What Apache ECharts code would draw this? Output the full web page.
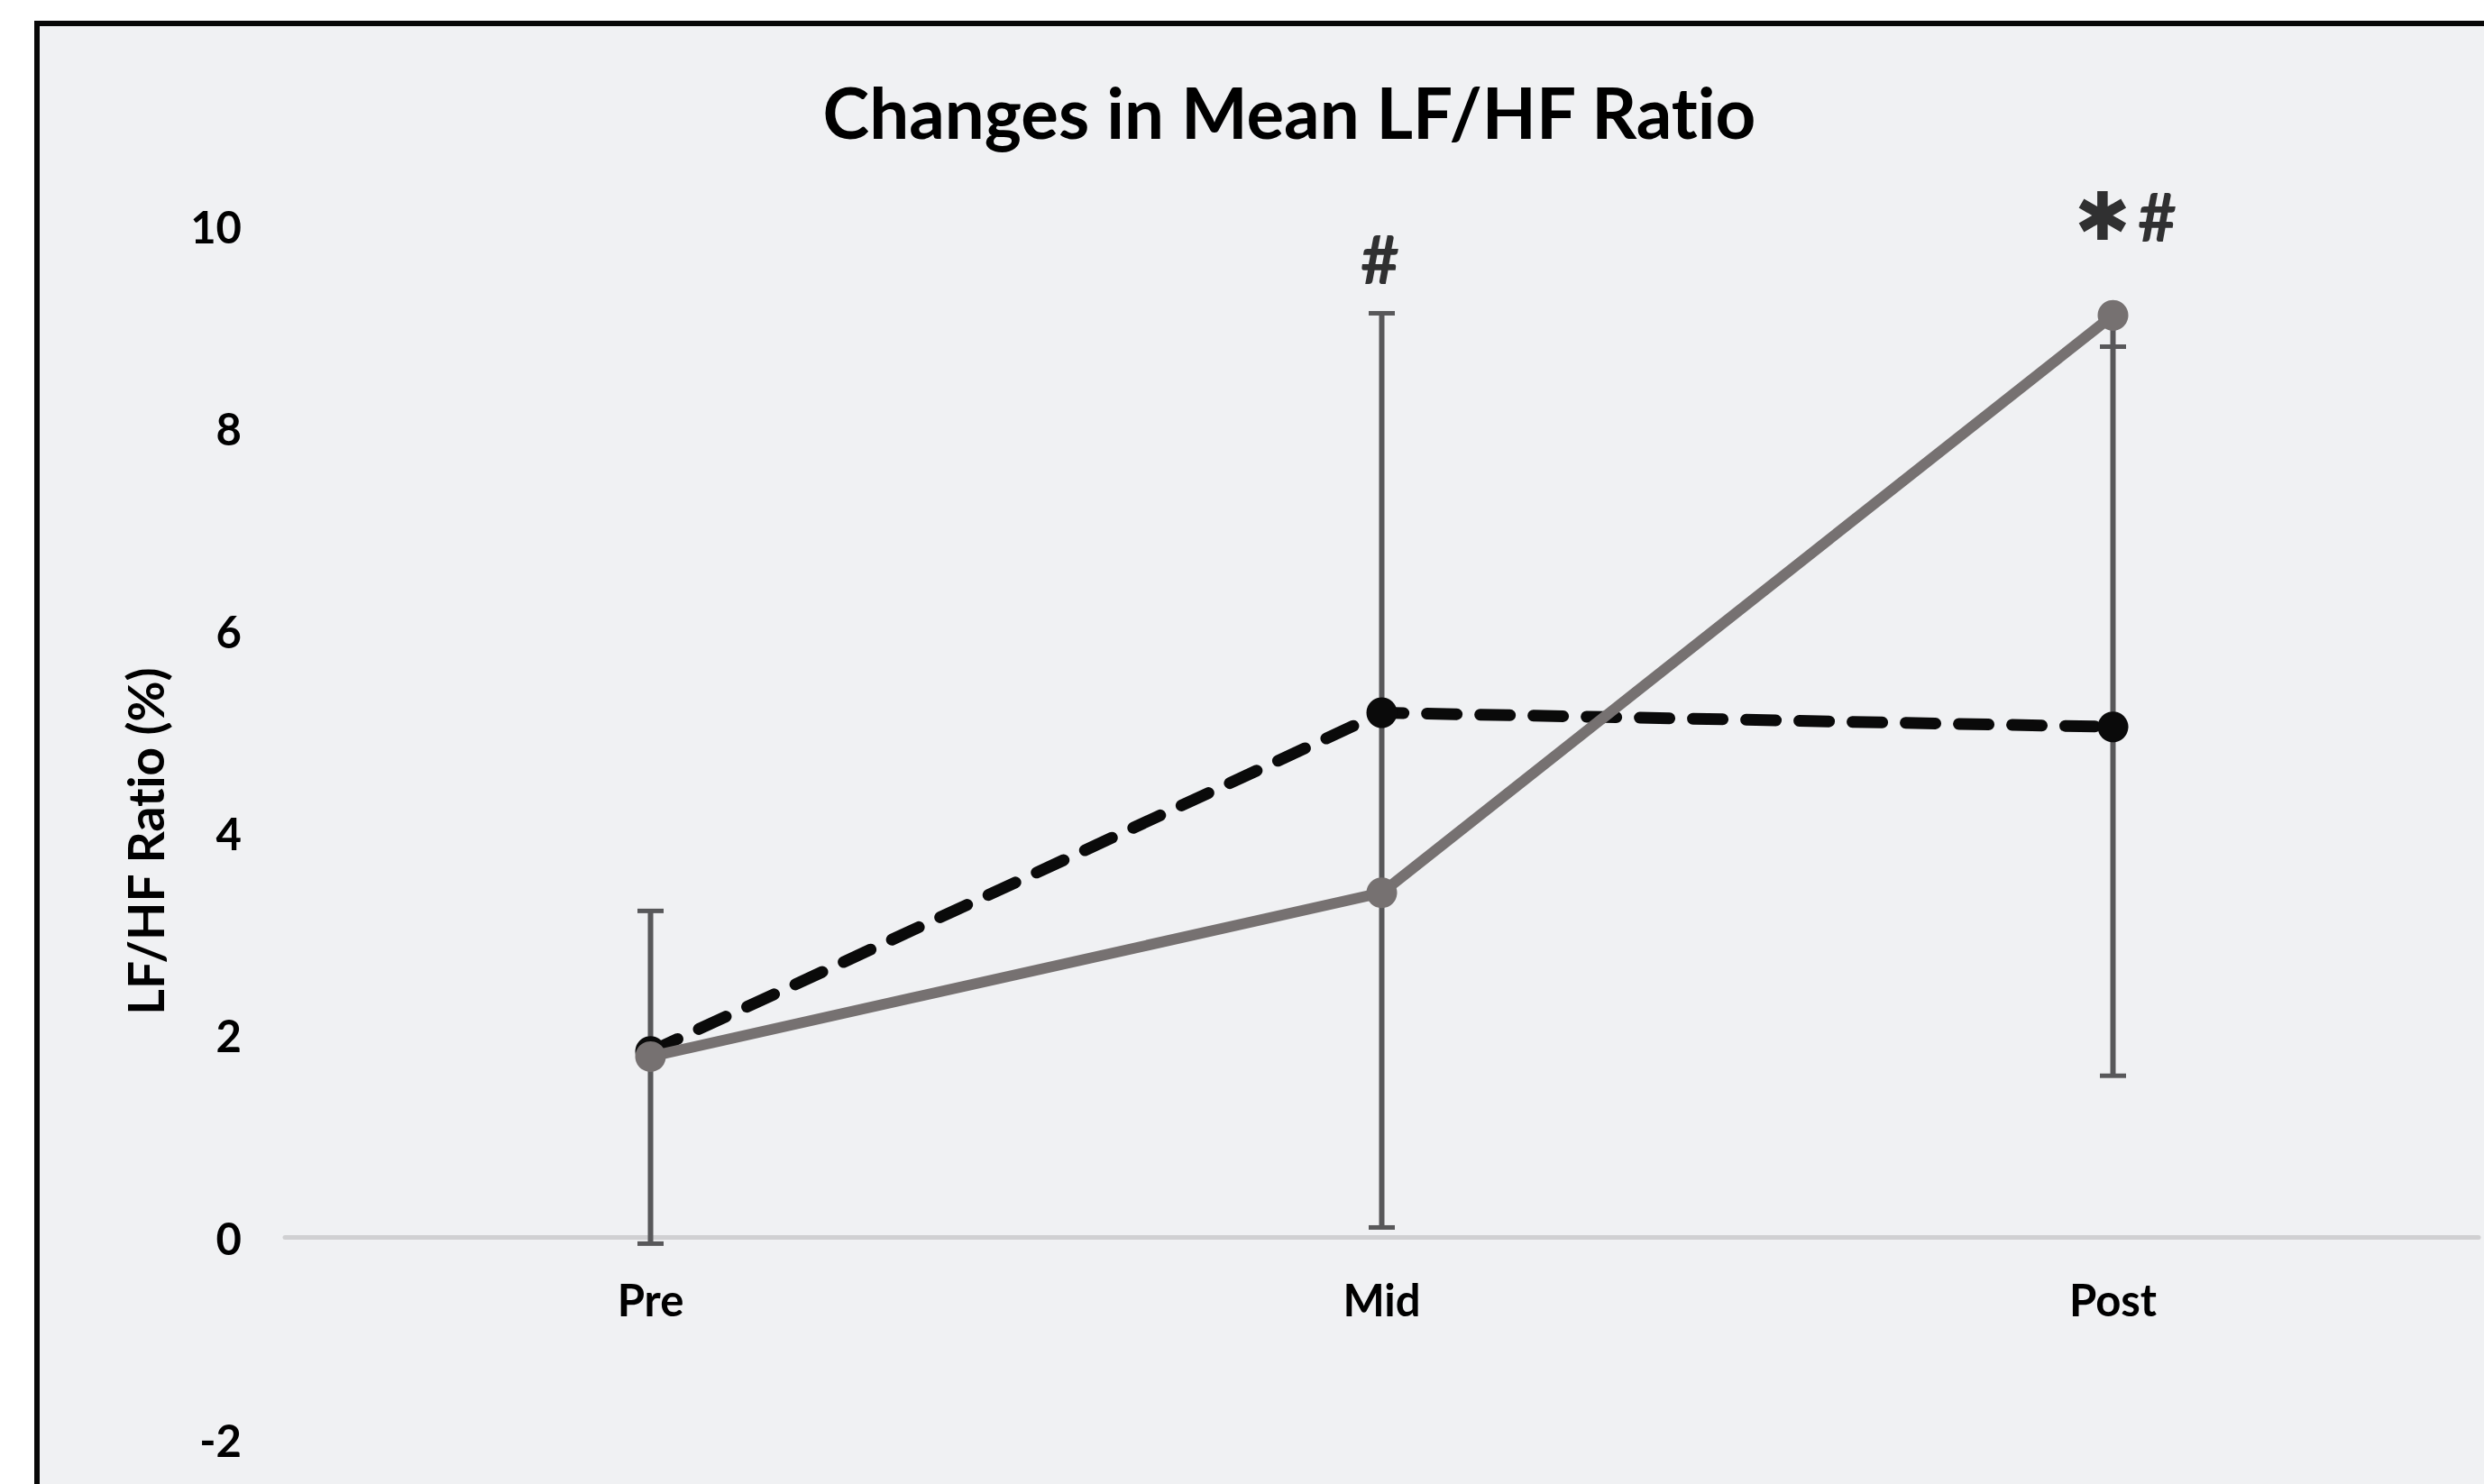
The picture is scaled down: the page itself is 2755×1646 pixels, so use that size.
<!DOCTYPE html>
<html>
<head>
<meta charset="utf-8">
<script src="https://cdn.jsdelivr.net/npm/echarts@6/dist/echarts.min.js"></script>
<style>
  html, body { margin: 0; padding: 0; background: #ffffff; }
  #frame { position: absolute; left: 38px; top: 23px; width: 2717px; height: 1623px;
           box-sizing: border-box; border-left: 6px solid #080808; border-top: 6px solid #080808;
           background: #f0f1f3; }
  #chart { position: absolute; left: 0; top: 0; width: 2755px; height: 1646px; }
  #chart text { font-variant-ligatures: none; text-rendering: optimizeSpeed; }
</style>
</head>
<body>
<div id="frame"></div>
<div id="chart"></div>
<script>
// ---- data ----
const categories = ['Pre', 'Mid', 'Post'];
const blackMean = [1.84, 5.19, 5.05];     // dashed black series
const greyMean  = [1.79, 3.41, 9.12];     // solid grey series
const errHigh   = [3.23, 9.14, 8.81];     // upper error-bar caps
const errLow    = [-0.06, 0.10, 1.60];    // lower error-bar caps
const annoText  = ['', '#', '*#'];        // significance marks
const annoY     = [null, 9.68, 10.1];     // value position of the marks
const yTicks    = { min: -2, max: 10, step: 2 };
const titleText = 'Changes in Mean LF/HF Ratio';
const yName     = 'LF/HF Ratio (%)';

const FONT = 'Lato';
const GRID = { left: 316, right: 6, top: 251, bottom: 49 };
const chart = echarts.init(document.getElementById('chart'), null, { renderer: 'svg' });

// x axis sits at value 0: shift it up from the bottom of the plot by the 0..min span
const plotH = 1646 - GRID.top - GRID.bottom;
const zeroShift = plotH * (0 - yTicks.min) / (yTicks.max - yTicks.min);

const errData = categories.map((c, i) => [
  i, errLow[i], errHigh[i],
  Math.min(errLow[i], blackMean[i], greyMean[i]),
  Math.max(errHigh[i], blackMean[i], greyMean[i])
]);

const annoData = categories.map((c, i) => annoY[i] == null ? null : {
    value: [i, annoY[i]], mark: annoText[i],
    label: { offset: [annoText[i].length > 1 ? 14 : -2, 0] }
  }).filter(d => d);

function richMark(s) {
  return s.split('').map(ch => ch === '*' ? '{s|\u2731}' : '{h|' + ch + '}').join('');
}

const option = {
  backgroundColor: 'transparent',
  animation: false,
  title: {
    text: titleText,
    left: 1430, top: 85, textAlign: 'center', padding: 0,
    textStyle: { fontFamily: FONT, fontWeight: 'bold', fontSize: 78, color: '#000' }
  },
  grid: Object.assign({ containLabel: false, outerBoundsMode: 'none' }, GRID),
  xAxis: {
    type: 'category', data: categories, boundaryGap: true,
    offset: -zeroShift,
    axisLine: { show: true, onZero: false, lineStyle: { color: '#d0d0d2', width: 5 } },
    axisTick: { show: false },
    splitLine: { show: false },
    axisLabel: { margin: 44, fontFamily: FONT, fontWeight: 'bold', fontSize: 49, color: '#000' }
  },
  yAxis: {
    type: 'value', min: yTicks.min, max: yTicks.max, interval: yTicks.step,
    axisLine: { show: false }, axisTick: { show: false }, splitLine: { show: false },
    axisLabel: { margin: 48, fontFamily: FONT, fontWeight: 'bold', fontSize: 49, color: '#000' },
    name: yName, nameLocation: 'middle', nameRotate: 90, nameGap: 128,
    nameTextStyle: { fontFamily: FONT, fontWeight: 'bold', fontSize: 55, color: '#000', padding: [0, 18, 0, 0] }
  },
  series: [
    {
      type: 'custom', z: 1, data: errData, clip: false,
      renderItem: function (params, api) {
        const x = api.value(0);
        const pLo = api.coord([x, api.value(1)]);
        const pHi = api.coord([x, api.value(2)]);
        const pA = api.coord([x, api.value(3)]);
        const pB = api.coord([x, api.value(4)]);
        const cap = 14.5;
        const st = { stroke: '#58585a', lineWidth: 6 };
        const cs = { stroke: '#58585a', lineWidth: 5 };
        return { type: 'group', children: [
          { type: 'line', shape: { x1: pA[0], y1: pA[1], x2: pB[0], y2: pB[1] }, style: st },
          { type: 'line', shape: { x1: pLo[0] - cap, y1: pLo[1], x2: pLo[0] + cap, y2: pLo[1] }, style: cs },
          { type: 'line', shape: { x1: pHi[0] - cap, y1: pHi[1], x2: pHi[0] + cap, y2: pHi[1] }, style: cs }
        ]};
      }
    },
    {
      type: 'line', z: 2, data: blackMean, clip: false,
      symbol: 'circle', symbolSize: 34, showSymbol: true,
      itemStyle: { color: '#0a0a0a' },
      lineStyle: { color: '#0a0a0a', width: 13, type: [33, 26], cap: 'round' }
    },
    {
      type: 'line', z: 3, data: greyMean, clip: false,
      symbol: 'circle', symbolSize: 34, showSymbol: true,
      itemStyle: { color: '#767171' },
      lineStyle: { color: '#767171', width: 12 }
    },
    {
      type: 'scatter', z: 4, data: annoData, symbolSize: 0, silent: true, clip: false,
      label: {
        show: true, position: 'inside',
        formatter: p => richMark(p.data.mark),
        rich: {
          h: { fontFamily: FONT, fontWeight: 'bold', fontSize: 74, color: '#000' },
          s: { fontFamily: 'DejaVu Sans', fontWeight: 'bold', fontSize: 74, color: '#000', padding: [0, 8, 0, 0] }
        }
      }
    }
  ]
};
chart.setOption(option);
</script>
</body>
</html>
